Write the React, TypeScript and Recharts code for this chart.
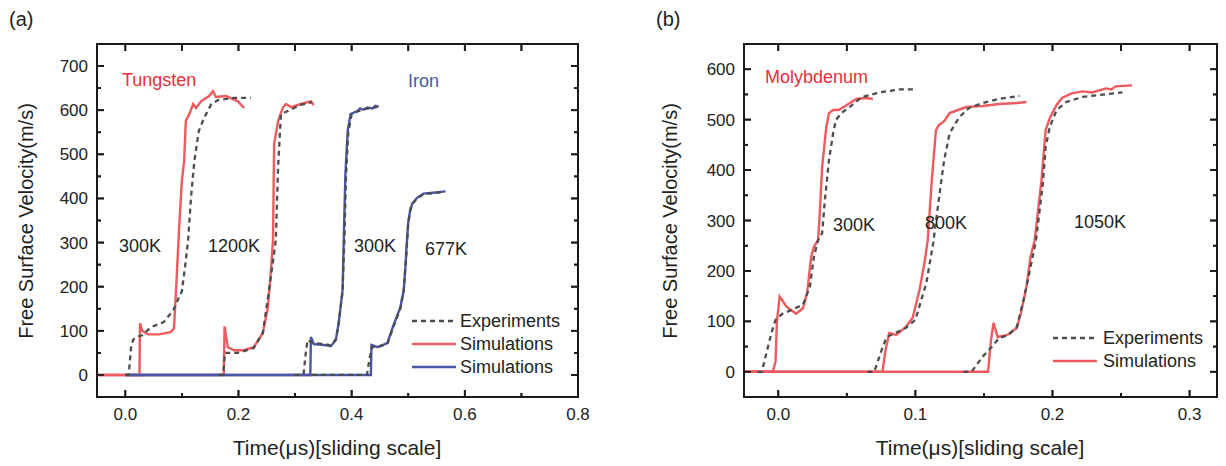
import React from 'react';
import { LineChart, Line, XAxis, YAxis, ReferenceArea, ReferenceLine } from 'recharts';

// ---------- Panel (a): Tungsten & Iron ----------
const w300SimT = [-0.05, 0.025, 0.026, 0.03, 0.04, 0.06, 0.08, 0.086, 0.09, 0.095, 0.1, 0.104, 0.107, 0.113, 0.12, 0.125, 0.134, 0.148, 0.155, 0.16, 0.178, 0.199, 0.21];
const w300SimV = [0, 0, 117, 100, 92, 92, 97, 105, 200, 330, 440, 485, 576, 591, 614, 605, 620, 632, 643, 630, 632, 620, 605];
const w300ExpT = [0.0, 0.006, 0.01, 0.014, 0.02, 0.03, 0.045, 0.068, 0.085, 0.09, 0.1, 0.106, 0.111, 0.116, 0.122, 0.13, 0.139, 0.152, 0.164, 0.192, 0.222];
const w300ExpV = [0, 0, 60, 80, 86, 90, 108, 120, 147, 162, 190, 250, 305, 400, 485, 553, 582, 614, 623, 628, 628];

const w1200SimT = [-0.05, 0.174, 0.1755, 0.181, 0.192, 0.21, 0.227, 0.243, 0.252, 0.257, 0.261, 0.263, 0.27, 0.278, 0.284, 0.293, 0.31, 0.328, 0.333];
const w1200SimV = [0, 0, 110, 63, 56, 56, 63, 95, 153, 230, 305, 523, 575, 605, 614, 607, 614, 620, 612];
const w1200ExpT = [0.165, 0.173, 0.176, 0.199, 0.227, 0.243, 0.254, 0.266, 0.27, 0.275, 0.287, 0.31, 0.33];
const w1200ExpV = [0, 0, 50, 50, 61, 95, 192, 305, 470, 591, 598, 612, 618];

const fe300SimT = [0.0, 0.327, 0.328, 0.333, 0.351, 0.363, 0.372, 0.377, 0.384, 0.386, 0.389, 0.393, 0.398, 0.41, 0.415, 0.42, 0.428, 0.437, 0.442, 0.448];
const fe300SimV = [0, 0, 86, 70, 68, 65, 79, 117, 192, 305, 456, 553, 591, 598, 604, 601, 606, 604, 610, 608];
const fe300ExpT = [0.3, 0.315, 0.318, 0.322, 0.333, 0.351, 0.363, 0.372, 0.377, 0.384, 0.387, 0.39, 0.394, 0.4, 0.41, 0.425, 0.445];
const fe300ExpV = [0, 0, 40, 79, 72, 70, 67, 80, 115, 190, 300, 450, 550, 590, 597, 603, 607];

const fe677SimT = [0.0, 0.434, 0.435, 0.446, 0.463, 0.474, 0.486, 0.492, 0.495, 0.497, 0.5, 0.503, 0.507, 0.516, 0.527, 0.544, 0.566];
const fe677SimV = [0, 0, 68, 63, 72, 113, 153, 192, 244, 290, 345, 370, 388, 402, 411, 413, 416];
const fe677ExpT = [0.33, 0.427, 0.432, 0.436, 0.446, 0.463, 0.474, 0.486, 0.492, 0.497, 0.5, 0.505, 0.516, 0.527, 0.544, 0.562];
const fe677ExpV = [0, 0, 40, 63, 64, 70, 110, 150, 190, 280, 345, 385, 400, 410, 412, 415];

const xDomA = [-0.05, 0.8];
const yDomA = [-50, 750];
const xTicksA = [0, 0.1, 0.2, 0.3, 0.4, 0.5, 0.6, 0.7, 0.8];
const yTicksA = [0, 50, 100, 150, 200, 250, 300, 350, 400, 450, 500, 550, 600, 650, 700];

// ---------- Panel (b): Molybdenum ----------
const mo300SimT = [-0.025, -0.004, -0.002, -0.001, 0.001, 0.006, 0.013, 0.018, 0.021, 0.024, 0.026, 0.029, 0.03, 0.032, 0.035, 0.037, 0.04, 0.044, 0.05, 0.057, 0.064, 0.069];
const mo300SimV = [0, 0, 20, 100, 149, 129, 115, 126, 156, 228, 248, 261, 301, 406, 485, 513, 519, 519, 529, 541, 543, 541];
const mo300ExpT = [-0.015, -0.012, -0.008, -0.005, -0.002, 0.003, 0.01, 0.018, 0.023, 0.026, 0.029, 0.032, 0.034, 0.037, 0.04, 0.042, 0.046, 0.052, 0.061, 0.074, 0.088, 0.1];
const mo300ExpV = [0, 0, 44, 77, 103, 115, 123, 133, 168, 228, 261, 275, 341, 420, 473, 499, 513, 525, 545, 554, 560, 560];

const mo800SimT = [-0.025, 0.076, 0.078, 0.081, 0.086, 0.093, 0.098, 0.103, 0.107, 0.109, 0.112, 0.115, 0.117, 0.121, 0.125, 0.137, 0.149, 0.161, 0.174, 0.181];
const mo800SimV = [0, 0, 40, 77, 73, 89, 107, 162, 222, 261, 380, 479, 489, 497, 513, 525, 527, 531, 533, 535];
const mo800ExpT = [0.065, 0.07, 0.075, 0.079, 0.084, 0.093, 0.1, 0.108, 0.113, 0.117, 0.121, 0.125, 0.132, 0.139, 0.149, 0.161, 0.176];
const mo800ExpV = [0, 0, 40, 69, 75, 87, 103, 176, 255, 340, 420, 473, 505, 523, 533, 541, 547];

const mo1050SimT = [-0.025, 0.153, 0.155, 0.157, 0.16, 0.167, 0.174, 0.177, 0.181, 0.184, 0.187, 0.192, 0.195, 0.198, 0.203, 0.207, 0.214, 0.222, 0.229, 0.239, 0.243, 0.246, 0.258];
const mo1050SimV = [0, 0, 60, 97, 69, 73, 87, 117, 168, 228, 261, 380, 479, 503, 529, 543, 552, 556, 554, 562, 560, 566, 568];
const mo1050ExpT = [0.135, 0.141, 0.149, 0.156, 0.161, 0.168, 0.174, 0.179, 0.184, 0.188, 0.193, 0.195, 0.198, 0.203, 0.21, 0.222, 0.234, 0.251];
const mo1050ExpV = [0, 0, 30, 50, 67, 73, 89, 143, 208, 261, 374, 446, 485, 519, 535, 545, 549, 554];

const xDomB = [-0.025, 0.32];
const yDomB = [-50, 650];
const xTicksB = [0, 0.05, 0.1, 0.15, 0.2, 0.25, 0.3];
const yTicksB = [0, 50, 100, 150, 200, 250, 300, 350, 400, 450, 500, 550, 600];

// ---------- styles ----------
const FONT = "Arial, 'Liberation Sans', sans-serif";
const RED = '#ef5a5f';
const BLUE = '#4b56a8';
const GRAY = '#4d4d4d';
const INK = '#1a1a1a';

const zip = (t: number[], v: number[]) => t.map((x, i) => ({ t: x, v: v[i] }));
const isMult = (v: number, step: number) => Math.abs(v / step - Math.round(v / step)) < 1e-6;

const makeTick = (side: string, step: number, fmt: any, allMajor: boolean) => (props: any) => {
  const { x, y, payload } = props;
  const v = payload.value;
  const major = isMult(v, step);
  const len = allMajor || major ? 7 : 4;
  const c: any = { bottom: [x, y, x, y - len], top: [x, y, x, y + len], left: [x, y, x + len, y], right: [x, y, x - len, y] }[side];
  let label: any = null;
  if (fmt && major && side === 'bottom')
    label = <text x={x} y={y + 23} textAnchor="middle" fontSize={17} fontFamily={FONT} fill="#222">{fmt(v)}</text>;
  if (fmt && major && side === 'left')
    label = <text x={x - 9} y={y + 6} textAnchor="end" fontSize={17} fontFamily={FONT} fill="#222">{fmt(v)}</text>;
  return <g><line x1={c[0]} y1={c[1]} x2={c[2]} y2={c[3]} stroke={INK} strokeWidth={1.8} />{label}</g>;
};

// Frame and inward tick marks drawn through the chart's own scales (segments in data units).
const frame = (pre: string, xDom: number[], yDom: number[], xTicks: number[], yTicks: number[], xStep: number, yStep: number, wPx: number, hPx: number) => {
  const dx = (xDom[1] - xDom[0]) / wPx;
  const dy = (yDom[1] - yDom[0]) / hPx;
  const els: any[] = [
    <ReferenceArea key={pre + 'box'} xAxisId={0} yAxisId={0} x1={xDom[0]} x2={xDom[1]} y1={yDom[0]} y2={yDom[1]}
      fill="none" fillOpacity={0} stroke={INK} strokeWidth={2} ifOverflow="visible" />,
  ];
  xTicks.forEach((t, i) => {
    const lb = isMult(t, xStep) ? 7 : 4;
    els.push(<ReferenceLine key={pre + 'xb' + i} xAxisId={0} yAxisId={0} ifOverflow="visible" stroke={INK} strokeWidth={1.8}
      segment={[{ x: t, y: yDom[0] }, { x: t, y: yDom[0] + lb * dy }]} />);
    els.push(<ReferenceLine key={pre + 'xt' + i} xAxisId={0} yAxisId={0} ifOverflow="visible" stroke={INK} strokeWidth={1.8}
      segment={[{ x: t, y: yDom[1] }, { x: t, y: yDom[1] - 7 * dy }]} />);
  });
  yTicks.forEach((v, i) => {
    const l = isMult(v, yStep) ? 7 : 4;
    els.push(<ReferenceLine key={pre + 'yl' + i} xAxisId={0} yAxisId={0} ifOverflow="visible" stroke={INK} strokeWidth={1.8}
      segment={[{ x: xDom[0], y: v }, { x: xDom[0] + l * dx, y: v }]} />);
    els.push(<ReferenceLine key={pre + 'yr' + i} xAxisId={0} yAxisId={0} ifOverflow="visible" stroke={INK} strokeWidth={1.8}
      segment={[{ x: xDom[1], y: v }, { x: xDom[1] - l * dx, y: v }]} />);
  });
  return els;
};

const fmt1 = (v: number) => v.toFixed(1);
const fmt0 = (v: number) => String(Math.round(v));

const txt = (s: string, left: number, top: number, color: string, size = 18, extra: any = {}) => (
  <div style={{ position: 'absolute', left, top, color, fontSize: size, fontFamily: FONT, whiteSpace: 'nowrap', lineHeight: 1, ...extra }}>{s}</div>
);

const LegendRow = ({ left, top, dash, color }: { left: number; top: number; dash: boolean; color: string }) => (
  <svg style={{ position: 'absolute', left, top }} width={44} height={6}>
    <line x1={0} x2={44} y1={3} y2={3} stroke={color} strokeWidth={2.4} strokeDasharray={dash ? '5 4' : undefined} />
  </svg>
);

const PanelA = () => (
  <LineChart width={600} height={466} margin={{ top: 34, right: 12, bottom: 29, left: 37 }}>
    <XAxis xAxisId={0} dataKey="t" type="number" domain={xDomA} ticks={xTicksA} height={40}
      axisLine={{ stroke: INK, strokeWidth: 2 }} tickLine={false} tick={makeTick('bottom', 0.2, fmt1, false)} tickSize={0} tickMargin={0} interval={0} />
    <XAxis xAxisId="top" orientation="top" dataKey="t" type="number" domain={xDomA} ticks={xTicksA} height={10}
      axisLine={{ stroke: INK, strokeWidth: 2 }} tickLine={false} tick={makeTick('top', 0.2, null, true)} tickSize={0} tickMargin={0} interval={0} />
    <YAxis yAxisId={0} type="number" domain={yDomA} ticks={yTicksA} width={60}
      axisLine={{ stroke: INK, strokeWidth: 2 }} tickLine={false} tick={makeTick('left', 100, fmt0, false)} tickSize={0} tickMargin={0} interval={0} />
    <YAxis yAxisId="right" orientation="right" type="number" domain={yDomA} ticks={yTicksA} width={10}
      axisLine={{ stroke: INK, strokeWidth: 2 }} tickLine={false} tick={makeTick('right', 100, null, false)} tickSize={0} tickMargin={0} interval={0} />
    {frame('a', xDomA, yDomA, xTicksA, yTicksA, 0.2, 100, 481, 353)}
    <Line data={zip(w300SimT, w300SimV)} dataKey="v" xAxisId={0} yAxisId={0} stroke={RED} strokeWidth={2.4} dot={false} isAnimationActive={false} />
    <Line data={zip(w1200SimT, w1200SimV)} dataKey="v" xAxisId={0} yAxisId={0} stroke={RED} strokeWidth={2.4} dot={false} isAnimationActive={false} />
    <Line data={zip(fe300SimT, fe300SimV)} dataKey="v" xAxisId={0} yAxisId={0} stroke={BLUE} strokeWidth={2.4} dot={false} isAnimationActive={false} />
    <Line data={zip(fe677SimT, fe677SimV)} dataKey="v" xAxisId={0} yAxisId={0} stroke={BLUE} strokeWidth={2.4} dot={false} isAnimationActive={false} />
    <Line data={zip(w300ExpT, w300ExpV)} dataKey="v" xAxisId="top" yAxisId="right" stroke={GRAY} strokeWidth={2.3} strokeDasharray="5 4" dot={false} isAnimationActive={false} />
    <Line data={zip(w1200ExpT, w1200ExpV)} dataKey="v" xAxisId="top" yAxisId="right" stroke={GRAY} strokeWidth={2.3} strokeDasharray="5 4" dot={false} isAnimationActive={false} />
    <Line data={zip(fe300ExpT, fe300ExpV)} dataKey="v" xAxisId="top" yAxisId="right" stroke={GRAY} strokeWidth={2.3} strokeDasharray="5 4" dot={false} isAnimationActive={false} />
    <Line data={zip(fe677ExpT, fe677ExpV)} dataKey="v" xAxisId="top" yAxisId="right" stroke={GRAY} strokeWidth={2.3} strokeDasharray="5 4" dot={false} isAnimationActive={false} />
  </LineChart>
);

const PanelB = () => (
  <LineChart width={616} height={466} margin={{ top: 34, right: 2, bottom: 29, left: 71 }}>
    <XAxis xAxisId={0} dataKey="t" type="number" domain={xDomB} ticks={xTicksB} height={40}
      axisLine={{ stroke: INK, strokeWidth: 2 }} tickLine={false} tick={makeTick('bottom', 0.1, fmt1, false)} tickSize={0} tickMargin={0} interval={0} />
    <XAxis xAxisId="top" orientation="top" dataKey="t" type="number" domain={xDomB} ticks={xTicksB} height={10}
      axisLine={{ stroke: INK, strokeWidth: 2 }} tickLine={false} tick={makeTick('top', 0.1, null, true)} tickSize={0} tickMargin={0} interval={0} />
    <YAxis yAxisId={0} type="number" domain={yDomB} ticks={yTicksB} width={60}
      axisLine={{ stroke: INK, strokeWidth: 2 }} tickLine={false} tick={makeTick('left', 100, fmt0, false)} tickSize={0} tickMargin={0} interval={0} />
    <YAxis yAxisId="right" orientation="right" type="number" domain={yDomB} ticks={yTicksB} width={10}
      axisLine={{ stroke: INK, strokeWidth: 2 }} tickLine={false} tick={makeTick('right', 100, null, false)} tickSize={0} tickMargin={0} interval={0} />
    {frame('b', xDomB, yDomB, xTicksB, yTicksB, 0.1, 100, 473, 353)}
    <Line data={zip(mo300SimT, mo300SimV)} dataKey="v" xAxisId={0} yAxisId={0} stroke={RED} strokeWidth={2.4} dot={false} isAnimationActive={false} />
    <Line data={zip(mo800SimT, mo800SimV)} dataKey="v" xAxisId={0} yAxisId={0} stroke={RED} strokeWidth={2.4} dot={false} isAnimationActive={false} />
    <Line data={zip(mo1050SimT, mo1050SimV)} dataKey="v" xAxisId={0} yAxisId={0} stroke={RED} strokeWidth={2.4} dot={false} isAnimationActive={false} />
    <Line data={zip(mo300ExpT, mo300ExpV)} dataKey="v" xAxisId="top" yAxisId="right" stroke={GRAY} strokeWidth={2.3} strokeDasharray="5 4" dot={false} isAnimationActive={false} />
    <Line data={zip(mo800ExpT, mo800ExpV)} dataKey="v" xAxisId="top" yAxisId="right" stroke={GRAY} strokeWidth={2.3} strokeDasharray="5 4" dot={false} isAnimationActive={false} />
    <Line data={zip(mo1050ExpT, mo1050ExpV)} dataKey="v" xAxisId="top" yAxisId="right" stroke={GRAY} strokeWidth={2.3} strokeDasharray="5 4" dot={false} isAnimationActive={false} />
  </LineChart>
);

export default function App() {
  return (
    <div style={{ position: 'absolute', left: 0, top: 0, width: 1226, height: 466, background: '#fff', fontFamily: FONT }}>
      <div style={{ position: 'absolute', left: 0, top: 0 }}><PanelA /></div>
      <div style={{ position: 'absolute', left: 613, top: 0, width: 613, overflow: 'hidden' }}><PanelB /></div>

      {txt('(a)', 9, 9, '#222', 20)}
      {txt('(b)', 656, 9, '#222', 20)}

      {txt('Free Surface Velocity(m/s)', 26, 221, '#222', 20, { transform: 'translate(-50%, -50%) rotate(-90deg)' })}
      {txt('Free Surface Velocity(m/s)', 670, 221, '#222', 20, { transform: 'translate(-50%, -50%) rotate(-90deg)' })}
      {txt('Time(\u03bcs)[sliding scale]', 337, 447, '#222', 21, { transform: 'translate(-50%, -50%)' })}
      {txt('Time(\u03bcs)[sliding scale]', 980, 447, '#222', 21, { transform: 'translate(-50%, -50%)' })}

      {txt('Tungsten', 122, 71, '#ec2f37', 18)}
      {txt('Iron', 408, 72, '#4a58ab', 18)}
      {txt('300K', 119, 237, '#222', 18)}
      {txt('1200K', 208, 237, '#222', 18)}
      {txt('300K', 354, 237, '#222', 18)}
      {txt('677K', 425, 240, '#222', 18)}

      {txt('Molybdenum', 765, 68, '#ec2f37', 18)}
      {txt('300K', 833, 216, '#222', 18)}
      {txt('800K', 925, 214, '#222', 18)}
      {txt('1050K', 1074, 213, '#222', 18)}

      <LegendRow left={412} top={318} dash={true} color={GRAY} />
      <LegendRow left={412} top={341} dash={false} color={RED} />
      <LegendRow left={412} top={364} dash={false} color={BLUE} />
      {txt('Experiments', 460, 312, '#222', 18)}
      {txt('Simulations', 460, 335, '#222', 18)}
      {txt('Simulations', 460, 358, '#222', 18)}

      <LegendRow left={1053} top={335} dash={true} color={GRAY} />
      <LegendRow left={1053} top={358} dash={false} color={RED} />
      {txt('Experiments', 1103, 329, '#222', 18)}
      {txt('Simulations', 1103, 352, '#222', 18)}
    </div>
  );
}
